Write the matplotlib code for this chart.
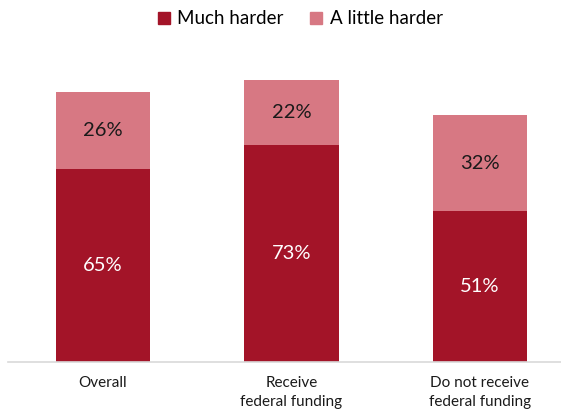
import matplotlib.pyplot as plt
from matplotlib.patches import Patch

categories = ["Overall", "Receive\nfederal funding", "Do not receive\nfederal funding"]
much_harder = [65, 73, 51]
little_harder = [26, 22, 32]

DARK = "#A31428"
LIGHT = "#D77883"

plt.rcParams["font.family"] = ["Lato", "DejaVu Sans"]

fig = plt.figure(figsize=(5.61, 4.09), dpi=100)
ax = fig.add_axes([8 / 561, 1 - 362 / 409, 553 / 561, 297 / 409])

x = list(range(len(categories)))
width = 0.5
ax.bar(x, much_harder, width=width, color=DARK)
ax.bar(x, little_harder, width=width, bottom=much_harder, color=LIGHT)

for i in x:
    ax.text(i, much_harder[i] / 2, f"{much_harder[i]}%", ha="center", va="center",
            color="white", fontsize=14.5)
    ax.text(i, much_harder[i] + little_harder[i] / 2, f"{little_harder[i]}%",
            ha="center", va="center", color="#1a1a1a", fontsize=14.5)

ax.set_xlim(-0.504, 2.43)
ax.set_ylim(0, 100)
ax.set_xticks(x)
ax.set_xticklabels(categories, fontsize=11, color="#1a1a1a", va="top", linespacing=1.45)
ax.tick_params(axis="x", length=0, pad=10)
ax.set_yticks([])
for side in ["left", "right", "top"]:
    ax.spines[side].set_visible(False)
ax.spines["bottom"].set_color("#d9d9d9")
ax.spines["bottom"].set_linewidth(1.2)

handles = [Patch(color=DARK, label="Much harder"), Patch(color=LIGHT, label="A little harder")]
fig.legend(handles=handles, loc="center", bbox_to_anchor=(300 / 561, 1 - 19 / 409),
           ncol=2, frameon=False, fontsize=13.5, handlelength=0.65, handleheight=0.65,
           handletextpad=0.4, columnspacing=1.4)

fig.savefig("out.png", dpi=100)
